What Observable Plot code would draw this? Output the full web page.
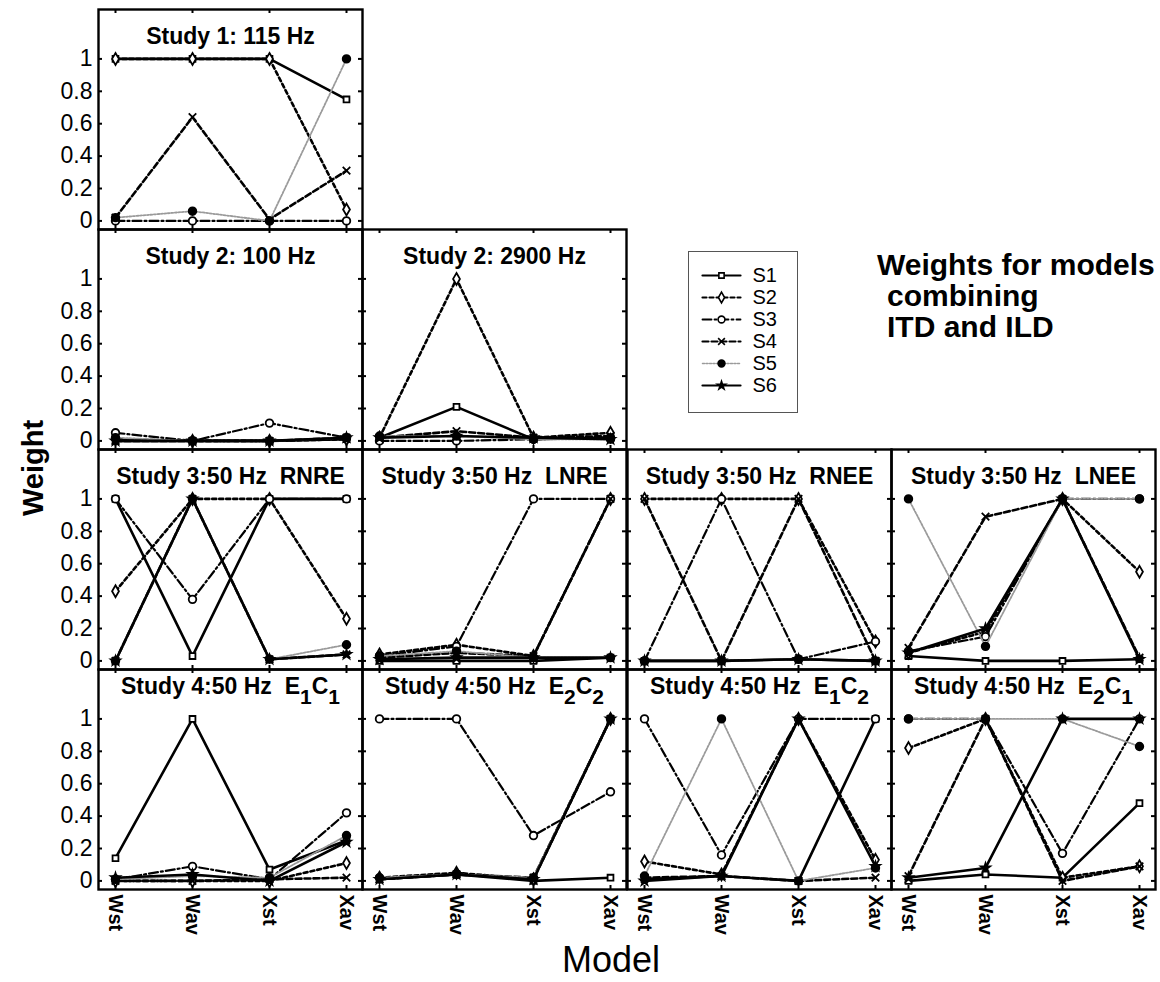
<!DOCTYPE html>
<html><head><meta charset="utf-8">
<script src="https://cdn.jsdelivr.net/npm/d3@7"></script>
<script src="https://cdn.jsdelivr.net/npm/@observablehq/plot@0.6"></script>
<style>
body{margin:0;background:#fff;}
#fig{position:relative;width:1160px;height:982px;background:#fff;overflow:hidden;}
#fig svg{position:absolute;overflow:visible;}
</style></head><body><div id="fig"></div>
<script>
// ---------- data ----------
const models = ["Wst", "Wav", "Xst", "Xav"];
const subjects = ["S1", "S2", "S3", "S4", "S5", "S6"];
const yTicks = [0, 0.2, 0.4, 0.6, 0.8, 1];
const yTickLabels = ["0", "0.2", "0.4", "0.6", "0.8", "1"];

const panelTitles = [
  "Study 1: 115 Hz", "Study 2: 100 Hz", "Study 2: 2900 Hz",
  "Study 3:50 Hz\u00a0 RNRE", "Study 3:50 Hz\u00a0 LNRE", "Study 3:50 Hz\u00a0 RNEE", "Study 3:50 Hz\u00a0 LNEE",
  "Study 4:50 Hz\u00a0 E_1C_1", "Study 4:50 Hz\u00a0 E_2C_2", "Study 4:50 Hz\u00a0 E_1C_2", "Study 4:50 Hz\u00a0 E_2C_1"
];

// weights per panel: one row per subject S1..S6, one value per model Wst, Wav, Xst, Xav
const wStudy1_115 = [[1,1,1,0.75],[1,1,1,0.07],[0,0,0,0],[0.02,0.64,0.01,0.31],[0.02,0.06,0,1],null];
const wStudy2_100 = [[0,0,0,0.01],[0.01,0,0,0.01],[0.05,0,0.11,0.02],[0,0,0,0.02],[0.02,0,0,0.02],[0,0,0,0.02]];
const wStudy2_2900 = [[0.02,0.21,0.01,0.02],[0.02,1,0.02,0.05],[0,0,0.01,0.02],[0.02,0.06,0.02,0.03],[0.03,0.03,0.01,0.01],[0.02,0.03,0.02,0.01]];
const wStudy3_RNRE = [[1,0.03,1,1],[0.43,1,1,0.26],[1,0.38,1,1],[0,1,0.01,0.04],[0,1,0.01,0.1],[0,1,0.01,0.04]];
const wStudy3_LNRE = [[0,0,0,0.02],[0.04,0.1,0.03,1],[0.03,0.09,1,1],[0.02,0.05,0.03,1],[0.03,0.06,0.02,0.02],[0.01,0.02,0.02,0.02]];
const wStudy3_RNEE = [[0,0,0.01,0],[1,1,1,0.12],[0,1,0.01,0.12],[1,0,1,0],[0,0,0.01,0],[0,0,0.01,0]];
const wStudy3_LNEE = [[0.03,0,0,0.01],[0.05,0.18,1,0.55],[0.06,0.15,1,1],[0.08,0.89,1,0.02],[1,0.09,1,1],[0.05,0.2,1,0.01]];
const wStudy4_E1C1 = [[0.14,1,0.07,0.25],[0,0,0,0.11],[0.01,0.09,0.01,0.42],[0,0,0.01,0.02],[0.01,0.03,0.02,0.28],[0.02,0.04,0,0.24]];
const wStudy4_E2C2 = [[0.01,0.04,0,0.02],[0.02,0.05,0.01,1],[1,1,0.28,0.55],[0.01,0.04,0.02,1],[0.02,0.04,0.02,1],[0.01,0.04,0.01,1]];
const wStudy4_E1C2 = [[0.01,0.03,0,1],[0.12,0.04,1,0.13],[1,0.16,1,1],[0.02,0.03,0,0.02],[0.03,1,0,0.08],[0,0.03,1,0.09]];
const wStudy4_E2C1 = [[0,0.04,0.02,0.48],[0.82,1,0.02,0.09],[1,1,0.17,1],[0.03,1,0,0.09],[1,1,1,0.83],[0.02,0.08,1,1]];

const panelWeights = [wStudy1_115, wStudy2_100, wStudy2_2900, wStudy3_RNRE, wStudy3_LNRE, wStudy3_RNEE, wStudy3_LNEE,
  wStudy4_E1C1, wStudy4_E2C2, wStudy4_E1C2, wStudy4_E2C1];

// ---------- layout & styles ----------
const panelCell = [[0,0],[1,0],[1,1],[2,0],[2,1],[2,2],[2,3],[3,0],[3,1],[3,2],[3,3]]; // [row, col]
const colX = [98, 362, 627, 891];
const rowY = [9, 229, 449, 669];
const PW = 264, PH = 220;
const M = {l: 50, r: 8, t: 4, b: 60};
const FONT = "Liberation Sans, Arial, Helvetica, sans-serif";

const subjectStyles = [
  {stroke: "#000", width: 2.6, dash: null, symbol: "square", fill: "white", r: 3.3},
  {stroke: "#000", width: 2.6, dash: "4,3", symbol: "diamond", fill: "white", r: 3.6},
  {stroke: "#000", width: 2.2, dash: "9,3,2,3", symbol: "circle", fill: "white", r: 3.8},
  {stroke: "#000", width: 2.6, dash: "6,3", symbol: "times", fill: "none", r: 3.5},
  {stroke: "#9a9a9a", width: 1.8, dash: "2,1.5", symbol: "circle", fill: "black", r: 3.8},
  {stroke: "#000", width: 2.6, dash: null, symbol: "star", fill: "black", r: 2.8}
];

const fig = document.getElementById("fig");

function applySubscripts(svg) {
  d3.select(svg).selectAll("text").each(function () {
    const t = this.textContent;
    if (!t.includes("_")) return;
    const parts = t.split(/_(\d)/);
    this.textContent = "";
    let shifted = false;
    parts.forEach((seg, i) => {
      if (seg === "") return;
      const isSub = i % 2 === 1;
      const ts = d3.select(this).append("tspan").text(seg);
      if (isSub) {
        ts.attr("font-size", 21);
        if (!shifted) { ts.attr("dy", 10); shifted = true; }
      } else if (shifted) { ts.attr("dy", -10); shifted = false; }
    });
  });
}

panelTitles.forEach((title, pi) => {
  const [row, col] = panelCell[pi];
  const weights = panelWeights[pi];
  const data = [];
  weights.forEach((vals, si) => {
    if (!vals) return;
    vals.forEach((w, mi) => data.push({subject: subjects[si], model: models[mi], w}));
  });
  const showY = col === 0, showX = row === 3;
  const marks = [];
  subjects.forEach((s, si) => {
    const st = subjectStyles[si];
    const rows = data.filter(d => d.subject === s);
    if (!rows.length) return;
    marks.push(Plot.line(rows, {x: "model", y: "w", stroke: st.stroke, strokeWidth: st.width,
      strokeDasharray: st.dash, strokeLinejoin: "round"}));
    marks.push(Plot.dot(rows, {x: "model", y: "w", symbol: st.symbol, r: st.r, fill: st.fill,
      stroke: "#000", strokeWidth: 1.8}));
  });
  marks.push(Plot.tickY(yTicks, {y: d => d, insetRight: PW - 4, strokeWidth: 2}));
  marks.push(Plot.tickY(yTicks, {y: d => d, insetLeft: PW - 4, strokeWidth: 2}));
  marks.push(Plot.tickX(models, {x: d => d, insetBottom: PH - 4, strokeWidth: 2}));
  marks.push(Plot.tickX(models, {x: d => d, insetTop: PH - 4, strokeWidth: 2}));
  marks.push(Plot.frame({stroke: "#000", strokeWidth: 2.4}));
  if (showY) marks.push(Plot.axisY(yTicks, {tickSize: 0, tickPadding: 6, label: null, fontSize: 23,
    tickFormat: d => yTickLabels[yTicks.indexOf(d)]}));
  if (showX) marks.push(Plot.axisX(models, {anchor: "bottom", tickSize: 0, tickPadding: 5, tickRotate: 90,
    label: null, fontSize: 20, fontWeight: "bold"}));
  marks.push(Plot.text([title], {text: d => d, frameAnchor: "top", lineAnchor: "top",
    dy: row === 3 ? 8 : 18, fontSize: 23, fontWeight: "bold"}));

  const svg = Plot.plot({
    width: PW + M.l + M.r, height: PH + M.t + M.b,
    marginLeft: M.l, marginRight: M.r, marginTop: M.t, marginBottom: M.b,
    x: {type: "point", domain: models, padding: 0.2, axis: showX ? undefined : null},
    y: {domain: [-0.053, 1.305], axis: showY ? undefined : null},
    style: {fontFamily: FONT, fontSize: "21px", background: "none", overflow: "visible", color: "#000"},
    marks
  });
  applySubscripts(svg);
  svg.style.left = (colX[col] - M.l) + "px";
  svg.style.top = (rowY[row] - M.t) + "px";
  fig.appendChild(svg);
});

// ---------- legend ----------
const legendRows = subjects.flatMap(s => [{s, t: 0}, {s, t: 1}]);
const legendMarks = [Plot.frame({stroke: "#555", strokeWidth: 1})];
subjects.forEach((s, si) => {
  const st = subjectStyles[si];
  legendMarks.push(Plot.line(legendRows.filter(d => d.s === s), {x: "t", y: "s", stroke: st.stroke,
    strokeWidth: st.width * 0.85, strokeDasharray: st.dash}));
  legendMarks.push(Plot.dot([s], {x: () => 0.5, y: d => d, symbol: st.symbol, r: st.r * 0.9, fill: st.fill,
    stroke: "#000", strokeWidth: 1.6}));
});
legendMarks.push(Plot.text(subjects, {x: () => 1, y: d => d, text: d => d, dx: 12, textAnchor: "start", fontSize: 20}));
const legend = Plot.plot({
  width: 109, height: 161, margin: 0,
  x: {domain: [0, 1], range: [14, 52], axis: null},
  y: {type: "point", domain: subjects, range: [11, 147], axis: null},
  style: {fontFamily: FONT, background: "none", overflow: "visible", color: "#000"},
  marks: legendMarks
});
legend.style.left = "688px";
legend.style.top = "251px";
fig.appendChild(legend);

// ---------- outer labels ----------
const outer = d3.create("svg").attr("width", 1160).attr("height", 982)
  .style("left", "0px").style("top", "0px").style("font-family", FONT);
outer.append("text").attr("transform", "translate(43,468) rotate(-90)").attr("text-anchor", "middle")
  .attr("font-size", 29).attr("font-weight", "bold").text("Weight");
outer.append("text").attr("x", 611).attr("y", 972).attr("text-anchor", "middle")
  .attr("font-size", 36).text("Model");
const note = ["Weights for models", "combining", "ITD and ILD"];
const noteX = [877, 887, 887];
const noteY = [275, 306, 337];
note.forEach((t, i) => outer.append("text").attr("x", noteX[i]).attr("y", noteY[i])
  .attr("font-size", 30).attr("font-weight", "bold").text(t));
fig.insertBefore(outer.node(), fig.firstChild);
</script></body></html>
